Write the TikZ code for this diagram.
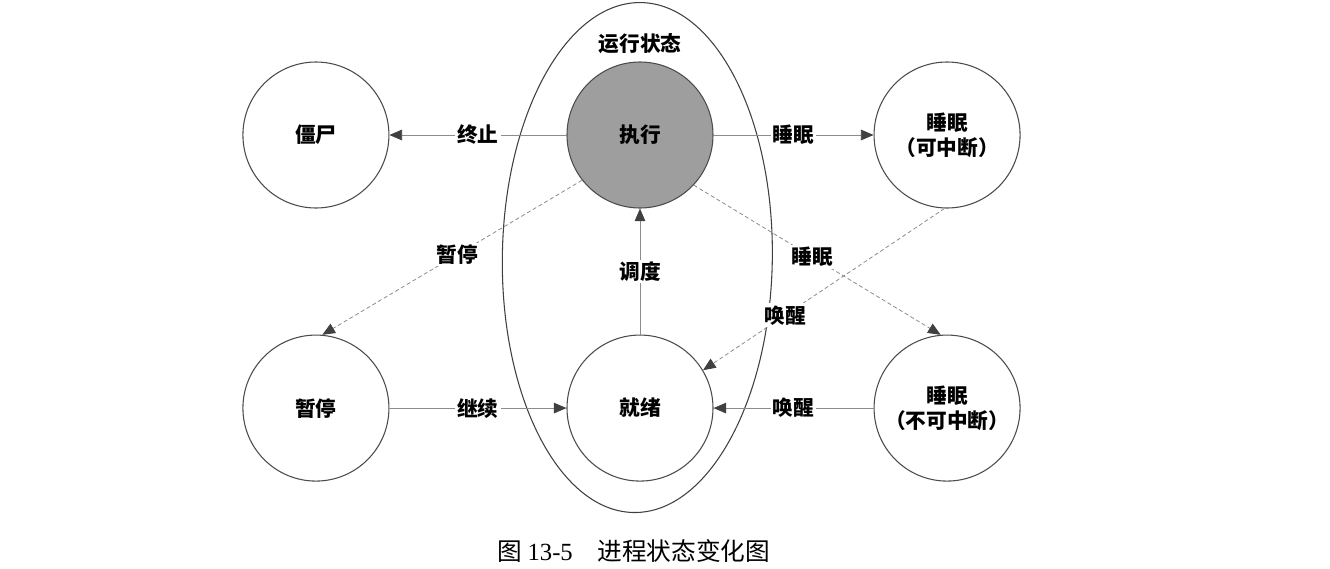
\documentclass[tikz,border=0pt]{standalone}
\usepackage{fontspec}
\setmainfont{Liberation Serif}
\newfontfamily\hei{Noto Sans CJK SC}
\usetikzlibrary{arrows.meta,positioning,shapes.geometric,calc}

\begin{document}
\begin{tikzpicture}[
  font=\hei\bfseries\fontsize{15.5}{19}\selectfont,
  state/.style={draw=black!70, line width=0.8pt, circle, minimum size=109.5pt, inner sep=0pt, align=center, fill=white},
  cur/.style={state, fill=black!38},
  ring/.style={draw=black!75, line width=0.8pt, ellipse, minimum width=202.5pt, minimum height=382.5pt, inner sep=0pt, rotate=-0.8},
  arr/.style={-{Triangle[length=9.5pt, width=8pt, color=black!75]}, draw=black!45, line width=0.6pt},
  darr/.style={arr, densely dashed},
  lbl/.style={fill=white, inner sep=1.5pt},
  captext/.style={font=\hei\fontsize{18.5}{21}\selectfont},
]
\useasboundingbox (-480pt,101.25pt) rectangle (517.5pt,-324.75pt);

% --- states, top row around the running one --------------------------------
\node[cur] (run) at (0,0) {执行};
\node[state, left=132.75pt of run] (zombie) {僵尸};
\node[state, right=120pt of run] (sleepi) {睡眠\\（可中断）};

% --- bottom row ---------------------------------------------------------------
\node[state, below=94.5pt of run] (ready) {就绪};
\node[state, left=132.75pt of ready] (stop) {暂停};
\node[state, right=120pt of ready] (sleepu) {睡眠\\（不可中断）};

% --- the running-state ring ---------------------------------------------------
\node[ring] (runstate) at ($(run)!0.5!(ready)+(-2pt,10.5pt)$) {};
\node[above=2pt of run] (title) {运行状态};

% --- transitions --------------------------------------------------------------
\draw[arr] (run) -- node[lbl] {终止} (zombie);
\draw[arr] (run) -- node[lbl] {睡眠} (sleepi);
\draw[arr] (ready) -- node[lbl] {调度} (run);
\draw[arr] (stop) -- node[lbl] {继续} (ready);
\draw[arr] (sleepu) -- node[lbl] {唤醒} (ready);
\draw[darr] (run.218) -- node[lbl, pos=0.48] {暂停} (stop.85);
\draw[darr] (run.317) -- node[lbl, pos=0.48] {睡眠} (sleepu.95);
\draw[darr] (sleepi.268) -- node[lbl, pos=0.66] {唤醒} (ready.31);

% --- caption ------------------------------------------------------------------
\node[captext, below=16pt of runstate] (caption) {图 {\rmfamily 13-5}\quad 进程状态变化图};
\end{tikzpicture}
\end{document}
